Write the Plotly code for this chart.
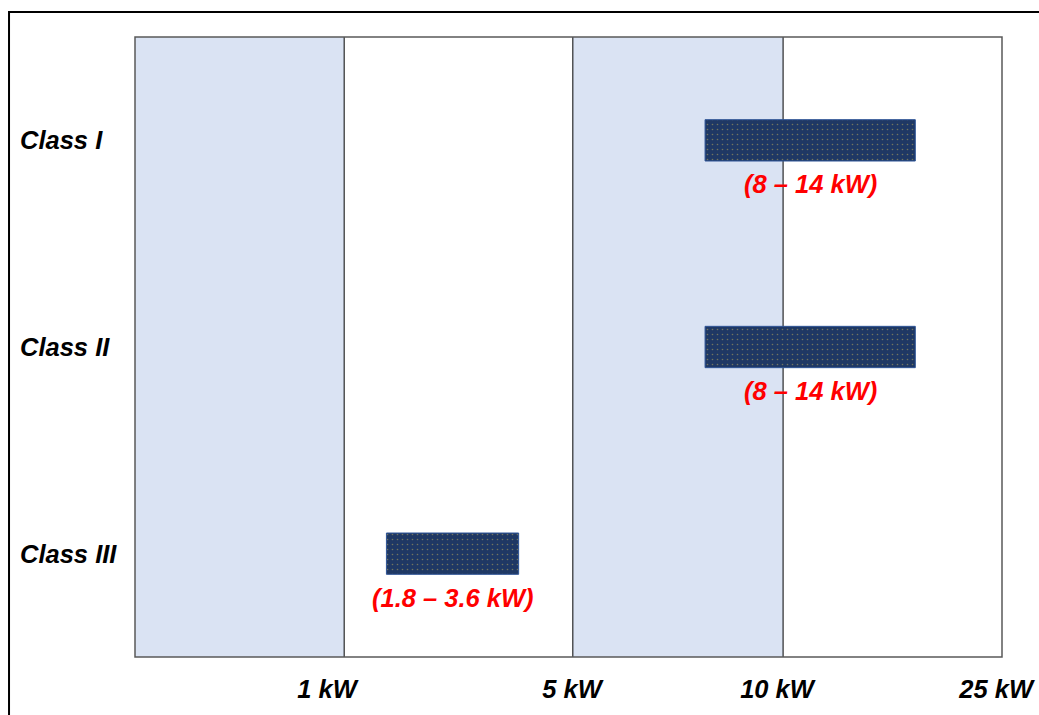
import plotly.graph_objects as go

# Data
classes = ["Class I", "Class II", "Class III"]
bar_start = [2.63, 2.63, 1.16]      # position on the segmented kW axis
bar_end = [3.60, 3.60, 1.77]
range_labels = ["(8 – 14 kW)", "(8 – 14 kW)", "(1.8 – 3.6 kW)"]
boundaries = [0.965, 2.02, 2.99, 4.0]          # axis positions of 1, 5, 10, 25 kW
tick_pos = [0.886, 2.016, 2.962, 3.973]
tick_text = ["1 kW", "5 kW", "10 kW", "25 kW"]

FONT = "Liberation Sans, Arial, sans-serif"
FS = 25.5
NAVY = "#1F3864"
BAND = "#DAE3F3"

fig = go.Figure()
fig.add_trace(go.Bar(
    y=classes,
    x=[e - s for s, e in zip(bar_start, bar_end)],
    base=bar_start,
    orientation="h",
    width=0.2,
    marker=dict(
        color=NAVY,
        line=dict(color="#2F5597", width=1),
        pattern=dict(shape=".", fgcolor="#C8B45A", bgcolor=NAVY, size=5, solidity=0.08),
    ),
    hoverinfo="skip",
    showlegend=False,
))

shapes = []
# shaded bands
shapes.append(dict(type="rect", xref="x", yref="paper", x0=0, x1=boundaries[0], y0=0, y1=1,
                   fillcolor=BAND, line=dict(width=0), layer="below"))
shapes.append(dict(type="rect", xref="x", yref="paper", x0=boundaries[1], x1=boundaries[2], y0=0, y1=1,
                   fillcolor=BAND, line=dict(width=0), layer="below"))
# boundary lines
for b in boundaries[:3]:
    shapes.append(dict(type="line", xref="x", yref="paper", x0=b, x1=b, y0=0, y1=1,
                       line=dict(color="black", width=1), layer="below"))
# plot border
shapes.append(dict(type="rect", xref="paper", yref="paper", x0=0, x1=1, y0=0, y1=1,
                   line=dict(color="#595959", width=1.5)))
# outer frame
shapes.append(dict(type="rect", xref="paper", yref="paper", x0=-0.1453, x1=1.2, y0=-0.2, y1=1.0403,
                   line=dict(color="black", width=2)))

annotations = []
for c, s, e, t in zip(classes, bar_start, bar_end, range_labels):
    annotations.append(dict(x=(s + e) / 2, y=c, xref="x", yref="y", text=f"<b><i>{t}</i></b>",
                            showarrow=False, yshift=-44,
                            font=dict(family=FONT, size=FS, color="#FF0000"),
                            xanchor="center", yanchor="middle"))
    annotations.append(dict(x=-0.1345, y=c, xref="paper", yref="y", text=f"<b><i>{c}</i></b>",
                            showarrow=False, xanchor="left", yanchor="middle",
                            font=dict(family=FONT, size=FS, color="black")))

fig.update_layout(
    width=1039, height=715,
    margin=dict(l=135, r=37, t=37, b=58, autoexpand=False),
    plot_bgcolor="white", paper_bgcolor="white",
    shapes=shapes, annotations=annotations,
    xaxis=dict(range=[0, 4], tickvals=tick_pos, ticktext=[f"<b><i>{t}</i></b>" for t in tick_text],
               showgrid=False, zeroline=False, showline=False, ticks="outside", ticklen=9,
               automargin=False, ticklabeloverflow="allow",
               tickcolor="rgba(0,0,0,0)", tickfont=dict(family=FONT, size=FS, color="black")),
    yaxis=dict(categoryorder="array", categoryarray=classes, autorange="reversed",
               range=[2.5, -0.5], showticklabels=False, showgrid=False, zeroline=False, showline=False),
)

fig.write_html("out.html", config={"displayModeBar": False},
               post_script="document.body.style.margin='0';document.body.style.overflow='hidden';")
